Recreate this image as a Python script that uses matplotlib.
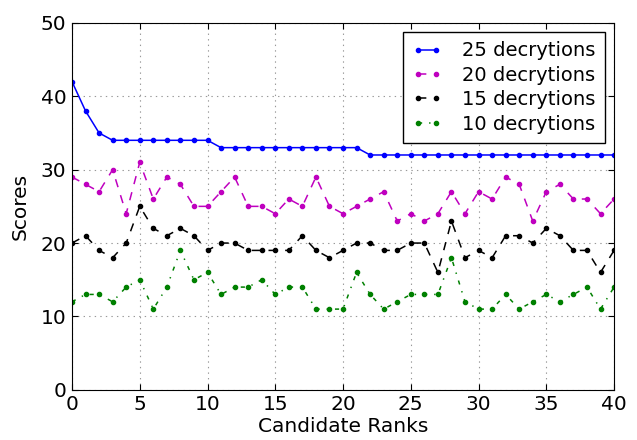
import matplotlib
matplotlib.use('Agg')
import matplotlib.pyplot as plt

# candidate ranks 0..40
ranks = list(range(41))

# scores
scores_25 = [42, 38, 35, 34, 34, 34, 34, 34, 34, 34, 34,
             33, 33, 33, 33, 33, 33, 33, 33, 33, 33, 33,
             32, 32, 32, 32, 32, 32, 32, 32, 32, 32, 32,
             32, 32, 32, 32, 32, 32, 32, 32]
scores_20 = [29, 28, 27, 30, 24, 31, 26, 29, 28, 25, 25,
             27, 29, 25, 25, 24, 26, 25, 29, 25, 24, 25,
             26, 27, 23, 24, 23, 24, 27, 24, 27, 26, 29,
             28, 23, 27, 28, 26, 26, 24, 26]
scores_15 = [20, 21, 19, 18, 20, 25, 22, 21, 22, 21, 19,
             20, 20, 19, 19, 19, 19, 21, 19, 18, 19, 20,
             20, 19, 19, 20, 20, 16, 23, 18, 19, 18, 21,
             21, 20, 22, 21, 19, 19, 16, 19]
scores_10 = [12, 13, 13, 12, 14, 15, 11, 14, 19, 15, 16,
             13, 14, 14, 15, 13, 14, 14, 11, 11, 11, 16,
             13, 11, 12, 13, 13, 13, 18, 12, 11, 11, 13,
             11, 12, 13, 12, 13, 14, 11, 14]

labels = ['25 decrytions', '20 decrytions', '15 decrytions', '10 decrytions']

plt.rcParams['font.family'] = 'DejaVu Sans'
plt.rcParams['font.size'] = 14.5
plt.rcParams['xtick.direction'] = 'in'
plt.rcParams['ytick.direction'] = 'in'
plt.rcParams['xtick.top'] = True
plt.rcParams['ytick.right'] = True
plt.rcParams['xtick.major.size'] = 4
plt.rcParams['ytick.major.size'] = 4
# old-style dash patterns
plt.rcParams['lines.scale_dashes'] = False
plt.rcParams['lines.dashed_pattern'] = [6, 6]
plt.rcParams['lines.dashdot_pattern'] = [3, 5, 1, 5]
plt.rcParams['lines.dotted_pattern'] = [1, 3]

fig = plt.figure(figsize=(6.37, 4.40), dpi=100)
ax = fig.add_axes([0.113, 0.114, 0.851, 0.834])

ax.plot(ranks, scores_25, '.-', color='b', lw=1.1, ms=6, label=labels[0])
ax.plot(ranks, scores_20, '.--', color='m', lw=1.1, ms=6, label=labels[1])
ax.plot(ranks, scores_15, '.--', color='k', lw=1.1, ms=6, label=labels[2])
ax.plot(ranks, scores_10, '.-.', color='g', lw=1.1, ms=6, label=labels[3])

ax.set_xlim(0, 40)
ax.set_ylim(0, 50)
ax.set_xticks(range(0, 41, 5))
ax.set_yticks(range(0, 51, 10))
ax.grid(True, linestyle=':', color='#999999', lw=0.8)
ax.set_xlabel('Candidate Ranks', labelpad=2)
ax.set_ylabel('Scores', labelpad=8)
ax.tick_params(pad=4)

leg = ax.legend(loc='upper right', numpoints=2, handlelength=1.5,
                fontsize=14, fancybox=False, framealpha=1, edgecolor='black',
                borderaxespad=0.45, borderpad=0.5, labelspacing=0.28,
                handletextpad=1.05)
leg.get_frame().set_linewidth(1.0)

fig.savefig('out.png', dpi=100)
